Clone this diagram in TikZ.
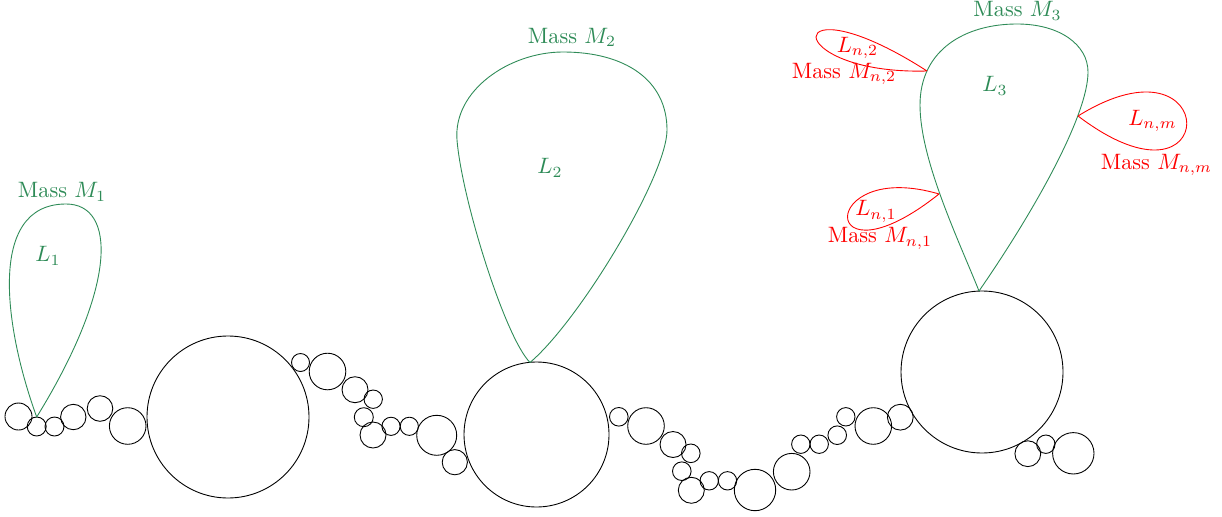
\documentclass[tikz,border=0pt]{standalone}
\usepackage{tikz}

\definecolor{massgreen}{RGB}{46,139,87}

\begin{document}
\begin{tikzpicture}[
    x=0.0158cm, y=-0.0158cm,
    grain/.style={draw=black},
    mass loop/.style={draw=massgreen},
    sub loop/.style={draw=red},
    mass label/.style={text=massgreen},
    sub label/.style={text=red},
]
\useasboundingbox (0,0) rectangle (1222,517);

% First chain of grains
\draw[grain] (18.5,416.5) circle (13.5);
\draw[grain] (36.7,426.5) circle (9.5);
\draw[grain] (54.5,426.5) circle (9.5);
\draw[grain] (73.3,417) circle (12.7);
\draw[grain] (100,408.5) circle (12.8);
\draw[grain] (127.7,426) circle (18.3);
\draw[grain] (228,417) circle (81);

% Second chain
\draw[grain] (300.5,362.5) circle (9);
\draw[grain] (327.5,371.5) circle (18.3);
\draw[grain] (355,389.7) circle (13);
\draw[grain] (373.2,399.2) circle (9.2);
\draw[grain] (363.8,417.2) circle (9.5);
\draw[grain] (373,435) circle (13);
\draw[grain] (391,426.3) circle (9.1);
\draw[grain] (409.3,426.3) circle (9.1);
\draw[grain] (436.7,435.3) circle (20);
\draw[grain] (454.8,462.2) circle (12.6);
\draw[grain] (536.5,434.5) circle (72.5);

% Third chain
\draw[grain] (618.8,416.8) circle (9.3);
\draw[grain] (646,426) circle (18.3);
\draw[grain] (673,444.5) circle (13);
\draw[grain] (690.8,453.3) circle (9.3);
\draw[grain] (681.8,471.2) circle (9.3);
\draw[grain] (691.3,490.3) circle (13);
\draw[grain] (709.2,480.8) circle (9.2);
\draw[grain] (727.5,480.8) circle (9.2);
\draw[grain] (755,490) circle (20.7);
\draw[grain] (791.7,471.7) circle (18.3);
\draw[grain] (800.8,444.2) circle (9.2);
\draw[grain] (819.2,444.2) circle (9.2);
\draw[grain] (837.2,435.2) circle (9.3);
\draw[grain] (845.8,416.8) circle (9.2);
\draw[grain] (873.3,426) circle (18.3);
\draw[grain] (900.3,417.2) circle (12.9);
\draw[grain] (982,372) circle (81);

% Last grains
\draw[grain] (1027.8,453.7) circle (12.9);
\draw[grain] (1045.8,444.2) circle (9.2);
\draw[grain] (1073.3,453.3) circle (20.7);

% Attachment points
\coordinate (t1) at (36.7,417);
\coordinate (t2) at (530,362.5);
\coordinate (t3) at (979,291);
\coordinate (a2) at (927,71);
\coordinate (a1) at (939,194);
\coordinate (am) at (1078,116);

% Main loops
\draw[mass loop] (t1) .. controls (5,330) and (-14,204) .. (66,204)
    .. controls (116,204) and (118,285) .. (t1);
\draw[mass loop] (t2) .. controls (505,337) and (462,200) .. (457,140)
    .. controls (453,90) and (510,52) .. (563,52)
    .. controls (625,52) and (667,80) .. (667,130)
    .. controls (667,175) and (580,320) .. (t2);
\draw[mass loop] (t3) .. controls (959,241) and (920,160) .. (920,105)
    .. controls (920,50) and (965,24) .. (1017,24)
    .. controls (1060,24) and (1088,45) .. (1088,72)
    .. controls (1088,115) and (1035,210) .. (t3);

% Sub loops on L3
\draw[sub loop] (a2) .. controls +(-148,-95) and +(-148,4) .. (a2);
\draw[sub loop] (a1) .. controls +(-122,-36) and +(-122,97) .. (a1);
\draw[sub loop] (am) .. controls +(145,-90) and +(145,110) .. (am);

% Labels
\node[mass label] (m1) at (62,192) {Mass $M_1$};
\node[mass label] (l1) at (48,256) {$L_1$};
\node[mass label] (m2) at (572,37.5) {Mass $M_2$};
\node[mass label] (l2) at (550,168) {$L_2$};
\node[mass label] (m3) at (1017.5,11) {Mass $M_3$};
\node[mass label] (l3) at (995,86) {$L_3$};
\node[sub label] (ln2) at (857.5,48) {$L_{n,2}$};
\node[sub label] (mn2) at (844,74) {Mass $M_{n,2}$};
\node[sub label] (ln1) at (876,211.5) {$L_{n,1}$};
\node[sub label] (mn1) at (880,238.5) {Mass $M_{n,1}$};
\node[sub label] (lnm) at (1152.5,121) {$L_{n,m}$};
\node[sub label] (mnm) at (1156.5,165) {Mass $M_{n,m}$};

\end{tikzpicture}
\end{document}
